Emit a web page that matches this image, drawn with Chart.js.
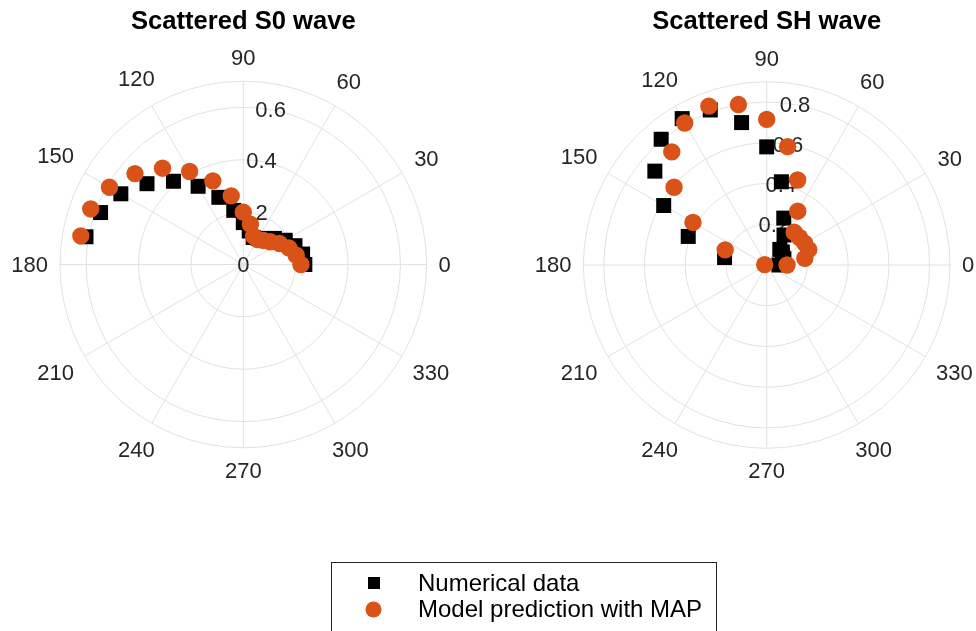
<!DOCTYPE html>
<html>
<head>
<meta charset="utf-8">
<title>Scattered waves</title>
<script src="https://cdn.jsdelivr.net/npm/chart.js@4.4.1/dist/chart.umd.min.js"></script>
<style>
  html, body { margin: 0; padding: 0; background: #fff; }
  #wrap { width: 976px; height: 631px; position: relative; }
</style>
</head>
<body>
<div id="wrap"><canvas id="polarChart"></canvas></div>
<script>
// --------------------------------------------------------------------------
// Data (angle in degrees, amplitude)
// --------------------------------------------------------------------------
const angleDeg = [0, 10, 20, 30, 40, 50, 60, 70, 80, 90, 100, 110, 120, 130, 140, 150, 160, 170];

const s0Numerical = [0.235, 0.23, 0.21, 0.185, 0.155, 0.13, 0.115, 0.11, 0.13, 0.16, 0.21, 0.273, 0.345, 0.415, 0.48, 0.54, 0.58, 0.61];
const s0Model     = [0.22, 0.205, 0.185, 0.16, 0.135, 0.12, 0.11, 0.115, 0.156, 0.20, 0.266, 0.34, 0.41, 0.48, 0.54, 0.59, 0.62, 0.63];

const shNumerical = [0.06, 0.08, 0.09, 0.09, 0.10, 0.10, 0.17, 0.245, 0.415, 0.58, 0.71, 0.81, 0.83, 0.806, 0.717, 0.584, 0.41, 0.21];
const shModel     = [0.10, 0.19, 0.22, 0.215, 0.21, 0.21, 0.305, 0.444, 0.59, 0.715, 0.80, 0.83, 0.805, 0.725, 0.594, 0.418, 0.217, 0.01];

const thetaTicks = [0, 30, 60, 90, 120, 150, 180, 210, 240, 270, 300, 330];
const s0RTicks = [0, 0.2, 0.4, 0.6];
const shRTicks = [0, 0.2, 0.4, 0.6, 0.8];
const s0RMax = 0.7;
const shRMax = 0.9;

const titles = ['Scattered S0 wave', 'Scattered SH wave'];
const seriesLabels = ['Numerical data', 'Model prediction with MAP'];

// --------------------------------------------------------------------------
// Layout (pixels)
// --------------------------------------------------------------------------
const W = 976, H = 631;
const panels = [
    { xId: 'x1', yId: 'y1', cx: 243.3, cy: 264.5, R: 183.3, rMax: s0RMax, rTicks: s0RTicks, title: titles[0] },
    { xId: 'x2', yId: 'y2', cx: 766.7, cy: 265.0, R: 183.3, rMax: shRMax, rTicks: shRTicks, title: titles[1] }
];

const GRID = '#e1e1e1';
const TEXT = '#262626';
const ORANGE = '#D95319';
const FONT = '"Liberation Sans", Arial, Helvetica, sans-serif';

function toXY(thetas, radii) {
    return radii.map((r, i) => {
        const a = thetas[i] * Math.PI / 180;
        return { x: r * Math.cos(a), y: r * Math.sin(a) };
    });
}

// axis ranges so that (0,0) lands on each panel centre
function axisRange(p) {
    const k = p.R / p.rMax;
    return {
        xMin: -p.cx / k, xMax: (W - p.cx) / k,
        yMin: -(H - p.cy) / k, yMax: p.cy / k
    };
}
const rangeL = axisRange(panels[0]);
const rangeR = axisRange(panels[1]);

// --------------------------------------------------------------------------
// Polar grid, labels, titles and legend box
// --------------------------------------------------------------------------
const polarGrid = {
    id: 'polarGrid',
    beforeDatasetsDraw(chart) {
        const ctx = chart.ctx;
        panels.forEach(p => {
            const xs = chart.scales[p.xId], ys = chart.scales[p.yId];
            const cx = xs.getPixelForValue(0), cy = ys.getPixelForValue(0);
            const k = xs.getPixelForValue(1) - cx;
            const outer = p.rMax * k;

            ctx.save();
            ctx.strokeStyle = GRID;
            ctx.lineWidth = 1;
            // rings
            p.rTicks.concat([p.rMax]).forEach(r => {
                if (r <= 0) return;
                ctx.beginPath();
                ctx.arc(cx, cy, r * k, 0, Math.PI * 2);
                ctx.stroke();
            });
            // spokes
            thetaTicks.forEach(t => {
                const a = t * Math.PI / 180;
                ctx.beginPath();
                ctx.moveTo(cx, cy);
                ctx.lineTo(cx + outer * Math.cos(a), cy - outer * Math.sin(a));
                ctx.stroke();
            });

            // theta labels
            ctx.fillStyle = TEXT;
            ctx.font = '22px ' + FONT;
            ctx.textAlign = 'center';
            ctx.textBaseline = 'middle';
            thetaTicks.forEach(t => {
                const a = t * Math.PI / 180;
                const txt = String(t);
                const hw = ctx.measureText(txt).width / 2;
                const hh = 11;
                const rr = outer + 12 + Math.abs(Math.cos(a)) * hw + Math.abs(Math.sin(a)) * hh;
                ctx.fillText(txt, cx + rr * Math.cos(a), cy - rr * Math.sin(a) + 1);
            });

            // r labels along 80 degrees
            const ra = 80 * Math.PI / 180;
            p.rTicks.forEach(r => {
                const txt = r === 0 ? '0' : r.toFixed(1);
                ctx.fillText(txt, cx + r * k * Math.cos(ra), cy - r * k * Math.sin(ra) + 1);
            });

            // title
            ctx.fillStyle = '#000';
            ctx.font = 'bold 25.6px ' + FONT;
            ctx.fillText(p.title, cx, 22);
            ctx.restore();
        });
    },
    afterDraw(chart) {
        const ctx = chart.ctx;
        const ds = chart.data.datasets;
        ctx.save();
        ctx.strokeStyle = TEXT;
        ctx.lineWidth = 1;
        ctx.strokeRect(331.5, 562.5, 385, 100);

        // entry 1: square
        ctx.fillStyle = ds[0].backgroundColor;
        ctx.fillRect(374 - 6, 583 - 6, 12, 12);
        // entry 2: circle
        ctx.fillStyle = ds[1].backgroundColor;
        ctx.beginPath();
        ctx.arc(373.5, 609.5, 8, 0, Math.PI * 2);
        ctx.fill();

        ctx.fillStyle = '#000';
        ctx.font = '24px ' + FONT;
        ctx.textAlign = 'left';
        ctx.textBaseline = 'middle';
        ctx.fillText(ds[0].label, 418, 584);
        ctx.fillText(ds[1].label, 418, 610);
        ctx.restore();
    }
};

// --------------------------------------------------------------------------
// Chart
// --------------------------------------------------------------------------
const squareStyle = { pointStyle: 'rect', pointRadius: 10.6, backgroundColor: '#000000', borderWidth: 0, order: 2 };
const circleStyle = { pointStyle: 'circle', pointRadius: 8.7, backgroundColor: ORANGE, borderWidth: 0, order: 1 };

new Chart(document.getElementById('polarChart'), {
    type: 'scatter',
    data: {
        datasets: [
            Object.assign({ label: seriesLabels[0], data: toXY(angleDeg, s0Numerical), xAxisID: 'x1', yAxisID: 'y1' }, squareStyle),
            Object.assign({ label: seriesLabels[1], data: toXY(angleDeg, s0Model), xAxisID: 'x1', yAxisID: 'y1' }, circleStyle),
            Object.assign({ label: seriesLabels[0], data: toXY(angleDeg, shNumerical), xAxisID: 'x2', yAxisID: 'y2' }, squareStyle),
            Object.assign({ label: seriesLabels[1], data: toXY(angleDeg, shModel), xAxisID: 'x2', yAxisID: 'y2' }, circleStyle)
        ]
    },
    options: {
        responsive: true,
        maintainAspectRatio: false,
        animation: false,
        events: [],
        layout: { padding: 0, autoPadding: false },
        plugins: {
            legend: { display: false },
            tooltip: { enabled: false }
        },
        scales: {
            x1: { type: 'linear', position: 'bottom', display: false, min: rangeL.xMin, max: rangeL.xMax },
            y1: { type: 'linear', position: 'left', display: false, min: rangeL.yMin, max: rangeL.yMax },
            x2: { type: 'linear', position: 'bottom', display: false, min: rangeR.xMin, max: rangeR.xMax },
            y2: { type: 'linear', position: 'left', display: false, min: rangeR.yMin, max: rangeR.yMax }
        }
    },
    plugins: [polarGrid]
});
</script>
</body>
</html>
